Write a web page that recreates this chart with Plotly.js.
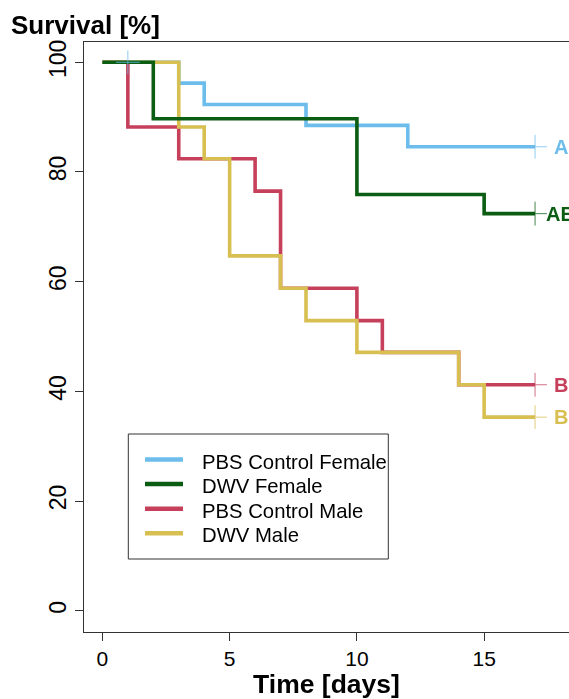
<!DOCTYPE html>
<html>
<head>
<meta charset="utf-8">
<script src="https://cdn.plot.ly/plotly-3.0.1.min.js"></script>
<style>
html, body { margin: 0; padding: 0; overflow: hidden; background: #fff; }
#chart { width: 569px; height: 699px; }
</style>
</head>
<body>
<div id="chart"></div>
<script>
// ---- data ----
var seriesNames = ["PBS Control Female", "DWV Female", "PBS Control Male", "DWV Male"];
var seriesColors = ["#6CBDEC", "#0B5D13", "#C6405B", "#D8BF52"];
var groupLetters = ["A", "AB", "B", "B"];

var pbsFemaleDays = [0, 3, 4, 8, 12, 17];
var pbsFemaleSurv = [100, 96.2, 92.3, 88.5, 84.6, 84.6];

var dwvFemaleDays = [0, 2, 10, 15, 17];
var dwvFemaleSurv = [100, 89.7, 75.9, 72.4, 72.4];

var pbsMaleDays = [0, 1, 3, 6, 7, 10, 11, 14, 17];
var pbsMaleSurv = [100, 88.2, 82.4, 76.5, 58.8, 52.9, 47.1, 41.2, 41.2];

var dwvMaleDays = [0, 3, 4, 5, 7, 8, 10, 14, 15, 17];
var dwvMaleSurv = [100, 88.2, 82.4, 64.7, 58.8, 52.9, 47.1, 41.2, 35.3, 35.3];

// censoring marks (day, survival)
var pbsFemaleCensDays = [1, 17];
var pbsFemaleCensSurv = [100, 84.6];
var dwvFemaleCensDays = [17];
var dwvFemaleCensSurv = [72.4];
var pbsMaleCensDays = [17];
var pbsMaleCensSurv = [41.2];
var dwvMaleCensDays = [17];
var dwvMaleCensSurv = [35.3];

var xTicks = [0, 5, 10, 15];
var yTicks = [0, 20, 40, 60, 80, 100];
var labelDay = 18;

// ---- build ----
var days = [pbsFemaleDays, dwvFemaleDays, pbsMaleDays, dwvMaleDays];
var surv = [pbsFemaleSurv, dwvFemaleSurv, pbsMaleSurv, dwvMaleSurv];
var censD = [pbsFemaleCensDays, dwvFemaleCensDays, pbsMaleCensDays, dwvMaleCensDays];
var censS = [pbsFemaleCensSurv, dwvFemaleCensSurv, pbsMaleCensSurv, dwvMaleCensSurv];

var FONT = "Liberation Sans, Arial, Helvetica, sans-serif";
var W = 569, H = 699;
var M = {l: 84, r: 0, t: 42, b: 67, pad: 0};
var PW = W - M.l - M.r, PH = H - M.t - M.b;
function px(x) { return (x - M.l) / PW; }
function py(y) { return (H - M.b - y) / PH; }

var drawOrder = [0, 2, 3, 1];
var traces = [];
drawOrder.forEach(function (i) {
  traces.push({
    type: "scatter", mode: "lines", x: days[i], y: surv[i], name: seriesNames[i],
    line: {shape: "hv", color: seriesColors[i], width: 3.6},
    showlegend: false, hoverinfo: "x+y+name"
  });
});
drawOrder.forEach(function (i) {
  traces.push({
    type: "scatter", mode: "markers", x: censD[i], y: censS[i], name: seriesNames[i] + " (censored)",
    marker: {symbol: "cross-thin", size: 17, color: seriesColors[i], line: {color: seriesColors[i], width: 1}},
    opacity: 0.75, showlegend: false, hoverinfo: "skip", cliponaxis: false
  });
});

var annotations = [];
var shapes = [];
for (var i = 0; i < 4; i++) {
  var last = surv[i][surv[i].length - 1];
  annotations.push({
    x: labelDay, y: last, xref: "x", yref: "y", text: groupLetters[i], showarrow: false,
    xanchor: "center", yanchor: "middle",
    font: {family: FONT, size: 20, color: seriesColors[i], weight: 700}
  });
}

// manual legend (box, sample lines, labels)
var legLeft = 128.3, legTop = 434, legRight = 388.3, legBottom = 559;
var rowLine0 = 459.5, rowText0 = 461.5, rowStep = 24.6;
shapes.push({type: "rect", xref: "paper", yref: "paper",
  x0: px(legLeft), x1: px(legRight), y0: py(legBottom), y1: py(legTop),
  line: {color: "#333", width: 1}, fillcolor: "rgba(0,0,0,0)"});
for (var k = 0; k < 4; k++) {
  shapes.push({type: "line", xref: "paper", yref: "paper",
    x0: px(145), x1: px(183), y0: py(rowLine0 + k * rowStep), y1: py(rowLine0 + k * rowStep),
    line: {color: seriesColors[k], width: 4.5}});
  annotations.push({x: px(200), y: py(rowText0 + k * rowStep), xref: "paper", yref: "paper",
    text: seriesNames[k], showarrow: false, xanchor: "left", yanchor: "middle",
    font: {family: FONT, size: 20.3, color: "#000"}});
}

var layout = {
  width: W, height: H,
  margin: M,
  paper_bgcolor: "#fff", plot_bgcolor: "#fff",
  showlegend: false,
  font: {family: FONT, color: "#000"},
  title: {text: "Survival [%]", xref: "container", yref: "container",
    x: 11 / W, xanchor: "left", y: 1 - 25 / H, yanchor: "middle",
    font: {family: FONT, size: 26, color: "#000", weight: 700}},
  xaxis: {
    range: [-0.723, 18.334], tickvals: xTicks, ticktext: xTicks.map(String),
    showgrid: false, zeroline: false, showline: true, mirror: true,
    linecolor: "#333", linewidth: 1, ticks: "outside", ticklen: 8, tickwidth: 1, tickcolor: "#333",
    tickfont: {family: FONT, size: 21, color: "#000"},
    title: {text: "Time [days]", standoff: 10, font: {family: FONT, size: 26.5, color: "#000", weight: 700}}
  },
  yaxis: {
    range: [-3.884, 103.70], tickvals: yTicks, ticktext: yTicks.map(String),
    showgrid: false, zeroline: false, showline: true, mirror: false,
    linecolor: "#333", linewidth: 1, ticks: "outside", ticklen: 8, tickwidth: 1, tickcolor: "#333",
    tickangle: -90,
    tickfont: {family: FONT, size: 23, color: "#000"}
  },
  annotations: annotations,
  shapes: shapes
};

Plotly.newPlot("chart", traces, layout, {displayModeBar: false, staticPlot: true});
</script>
</body>
</html>
